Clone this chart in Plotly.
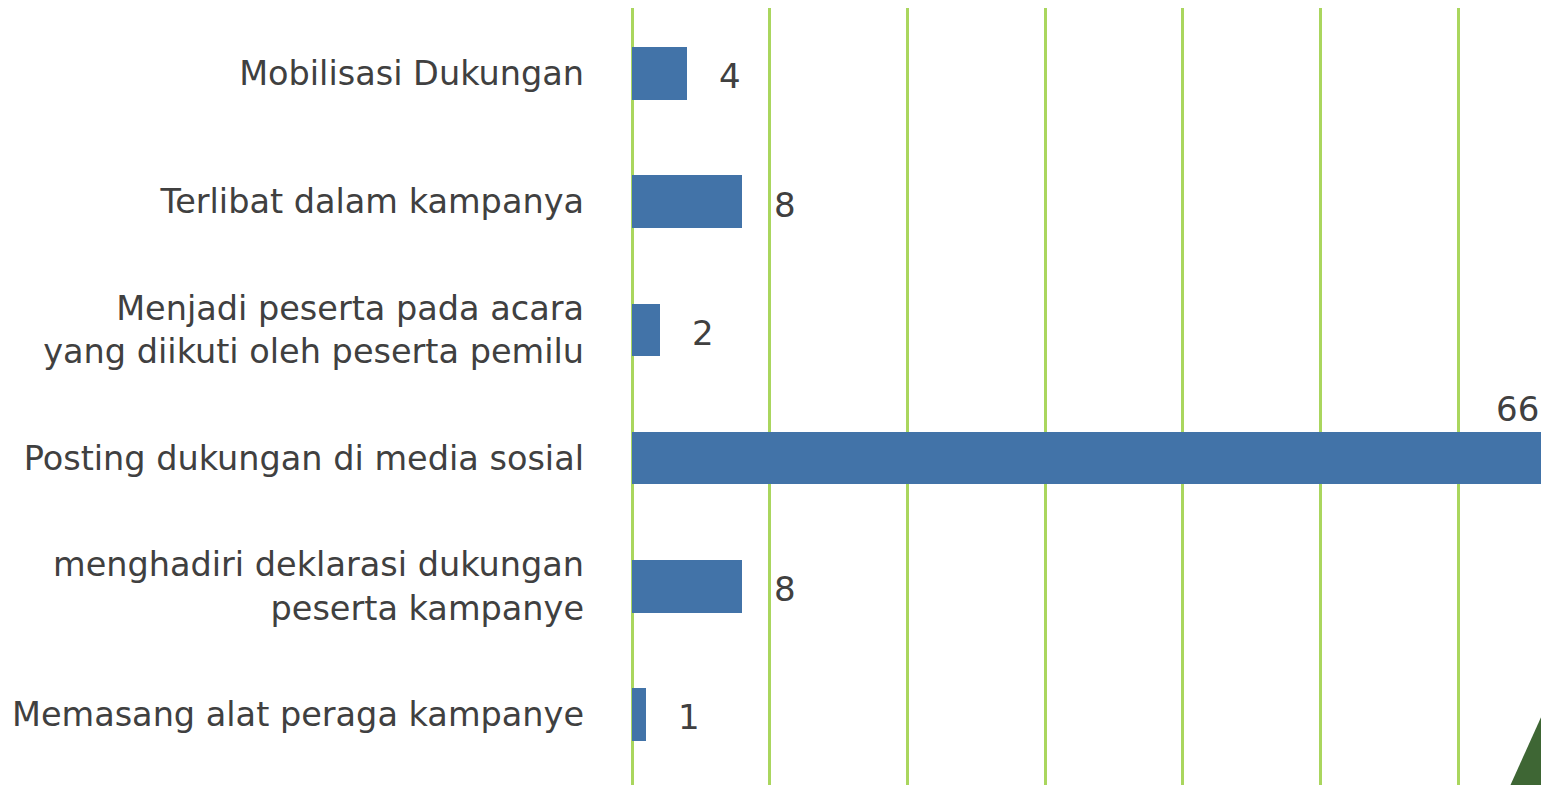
import plotly.graph_objects as go

categories = [
    "Mobilisasi Dukungan",
    "Terlibat dalam kampanya",
    "Menjadi peserta pada acara<br>yang diikuti oleh peserta pemilu",
    "Posting dukungan di media sosial",
    "menghadiri deklarasi dukungan<br>peserta kampanye",
    "Memasang alat peraga kampanye",
]
values = [4, 8, 2, 66, 8, 1]
x_ticks = [0, 10, 20, 30, 40, 50, 60]

BAR = "#4273a8"
GRID = "#aad65e"
TXT = "#404040"
FONT = "DejaVu Sans, sans-serif"

positions = list(range(len(categories)))

fig = go.Figure()
fig.add_trace(go.Bar(
    x=values, y=positions, orientation="h",
    marker=dict(color=BAR, line=dict(width=0)),
    width=0.41, hoverinfo="skip",
))

vmax = max(values)
for p, v in zip(positions, values):
    if v == vmax:
        fig.add_annotation(x=v, y=p, text=str(v), showarrow=False,
                           xanchor="right", yanchor="bottom", yshift=27,
                           font=dict(size=34, color=TXT, family=FONT))
    else:
        fig.add_annotation(x=v, y=p, text=str(v), showarrow=False,
                           xanchor="left", yanchor="middle", xshift=30,
                           yshift=-3,
                           font=dict(size=34, color=TXT, family=FONT))

# decorative triangle bottom-right
fig.add_shape(type="path", xref="paper", yref="paper",
              path="M 0.958 0 L 1 0.11 L 1 0 Z",
              fillcolor="#3e6634", line=dict(width=0), layer="above")

fig.update_layout(
    width=1541, height=777,
    margin=dict(l=624, r=0, t=0, b=0),
    paper_bgcolor="white", plot_bgcolor="white",
    showlegend=False,
    bargap=0,
    xaxis=dict(range=[0, 66.6], tickvals=x_ticks, showticklabels=False,
               showgrid=True, gridcolor=GRID, gridwidth=3,
               zeroline=True, zerolinecolor=GRID, zerolinewidth=3,
               showline=False, fixedrange=True),
    yaxis=dict(range=[5.55, -0.51], tickvals=positions, ticktext=categories,
               showgrid=False, zeroline=False, showline=False,
               ticks="", ticklabelstandoff=47,
               tickfont=dict(size=33.5, color=TXT, family=FONT),
               fixedrange=True),
)

fig.write_html("out.html")
